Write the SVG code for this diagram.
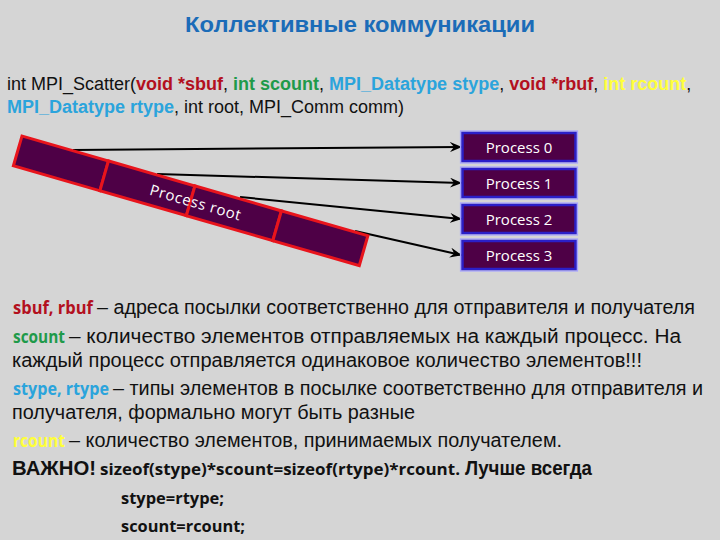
<svg xmlns="http://www.w3.org/2000/svg" width="720" height="540" viewBox="0 0 720 540">
<style>
.bg{fill:#d5d5d5}
.title{font-family:"Liberation Sans",Arial,sans-serif;font-weight:bold;font-size:22px;fill:#1b6cb8}
.sig{font-family:"Liberation Sans",Arial,sans-serif;font-size:18px;fill:#111}
.kw{font-weight:bold}
.body{font-family:"Liberation Sans",Arial,sans-serif;font-size:20px;fill:#111}
.code{font-family:"Open Sans","Liberation Sans",sans-serif;font-weight:bold;font-size:16px;fill:#111}
.red{fill:#b3101e}
.grn{fill:#1f9a4a}
.blu{fill:#2ba4dc}
.yel{fill:#ffff3a}
text.code.red,text.code.grn,text.code.blu,text.code.yel{font-size:17px}
text.red{fill:#b3101e}
text.grn{fill:#1f9a4a}
text.blu{fill:#2ba4dc}
text.yel{fill:#ffff3a}
.cell{fill:#4e0046;stroke:#e8141c;stroke-width:3}
.pbox{fill:#4e0046;stroke:#2b1fc8;stroke-width:2.5}
.pout{fill:none;stroke:#a7a4ff;stroke-width:1.2}
.plabel{font-family:"Open Sans","Liberation Sans",sans-serif;font-size:15px;fill:#fff;text-anchor:middle}
.conn{stroke:#000;stroke-width:2;fill:none;marker-end:url(#arr)}
</style>
<defs>
<marker id="arr" viewBox="0 0 12 10" refX="11" refY="5" markerWidth="12" markerHeight="10" markerUnits="userSpaceOnUse" orient="auto">
<path d="M0,0 L12,5 L0,10 L4,5 Z" fill="#000"/>
</marker>
</defs>
<rect class="bg" x="0" y="0" width="720" height="540"/>
<text class="title" x="185" y="32" textLength="350" lengthAdjust="spacingAndGlyphs">Коллективные коммуникации</text>
<g id="signature">
<text class="sig" x="7" y="90">int MPI_Scatter(<tspan class="kw red">void *sbuf</tspan>, <tspan class="kw grn">int scount</tspan>, <tspan class="kw blu">MPI_Datatype stype</tspan>, <tspan class="kw red">void *rbuf</tspan>, <tspan class="kw yel">int rcount</tspan>,</text>
<text class="sig" x="7" y="113"><tspan class="kw blu">MPI_Datatype rtype</tspan>, int root, MPI_Comm comm)</text>
</g>
<g id="connectors">
<line class="conn" x1="73" y1="150" x2="461" y2="147"/>
<line class="conn" x1="157" y1="174" x2="461" y2="183"/>
<line class="conn" x1="240" y1="197" x2="461" y2="219"/>
<line class="conn" x1="355" y1="231" x2="461" y2="255"/>
</g>
<g id="process-root" transform="translate(22,136) rotate(16.1)">
<rect class="cell" x="0" y="0" width="90" height="31"/>
<rect class="cell" x="90" y="0" width="90" height="31"/>
<rect class="cell" x="180" y="0" width="90" height="31"/>
<rect class="cell" x="270" y="0" width="90" height="31"/>
<text x="138" y="21" font-family="'Open Sans','Liberation Sans',sans-serif" font-size="15" fill="#fff" letter-spacing="0.6">Process  root</text>
</g>
<g id="p0"><rect class="pout" x="460.5" y="131" width="117" height="32"/><rect class="pbox" x="462.5" y="133" width="113" height="28"/><text class="plabel" x="519" y="152.5">Process 0</text></g>
<g id="p1"><rect class="pout" x="460.5" y="167" width="117" height="32"/><rect class="pbox" x="462.5" y="169" width="113" height="28"/><text class="plabel" x="519" y="188.5">Process 1</text></g>
<g id="p2"><rect class="pout" x="460.5" y="203" width="117" height="32"/><rect class="pbox" x="462.5" y="205" width="113" height="28"/><text class="plabel" x="519" y="224.5">Process 2</text></g>
<g id="p3"><rect class="pout" x="460.5" y="239" width="117" height="32"/><rect class="pbox" x="462.5" y="241" width="113" height="28"/><text class="plabel" x="519" y="260.5">Process 3</text></g>
<g id="description">
<text class="code red" x="13" y="314" textLength="80" lengthAdjust="spacingAndGlyphs">sbuf, rbuf</text>
<text class="body" x="97" y="314" textLength="598" lengthAdjust="spacingAndGlyphs">– адреса посылки соответственно для отправителя и получателя</text>
<text class="code grn" x="13" y="343" textLength="52" lengthAdjust="spacingAndGlyphs">scount</text>
<text class="body" x="69" y="343" textLength="612" lengthAdjust="spacingAndGlyphs">– количество элементов отправляемых на каждый процесс. На</text>
<text class="body" x="12" y="367" textLength="630" lengthAdjust="spacingAndGlyphs">каждый процесс отправляется одинаковое количество элементов!!!</text>
<text class="code blu" x="13" y="395" textLength="96" lengthAdjust="spacingAndGlyphs">stype, rtype</text>
<text class="body" x="113" y="395" textLength="590" lengthAdjust="spacingAndGlyphs">– типы элементов в посылке соответственно для отправителя и</text>
<text class="body" x="12" y="419" textLength="403" lengthAdjust="spacingAndGlyphs">получателя, формально могут быть разные</text>
<text class="code yel" x="13" y="447" textLength="52" lengthAdjust="spacingAndGlyphs">rcount</text>
<text class="body" x="69" y="447" textLength="493" lengthAdjust="spacingAndGlyphs">– количество элементов, принимаемых получателем.</text>
<text class="body" x="12" y="475" font-weight="bold" textLength="84" lengthAdjust="spacingAndGlyphs">ВАЖНО!</text>
<text class="code" x="100" y="475" textLength="360" lengthAdjust="spacingAndGlyphs">sizeof(stype)*scount=sizeof(rtype)*rcount.</text>
<text class="body" x="465" y="475" font-weight="bold" textLength="127" lengthAdjust="spacingAndGlyphs">Лучше всегда</text>
<text class="code" x="121" y="504" textLength="103" lengthAdjust="spacingAndGlyphs">stype=rtype;</text>
<text class="code" x="121" y="532" textLength="124" lengthAdjust="spacingAndGlyphs">scount=rcount;</text>
</g>
</svg>
